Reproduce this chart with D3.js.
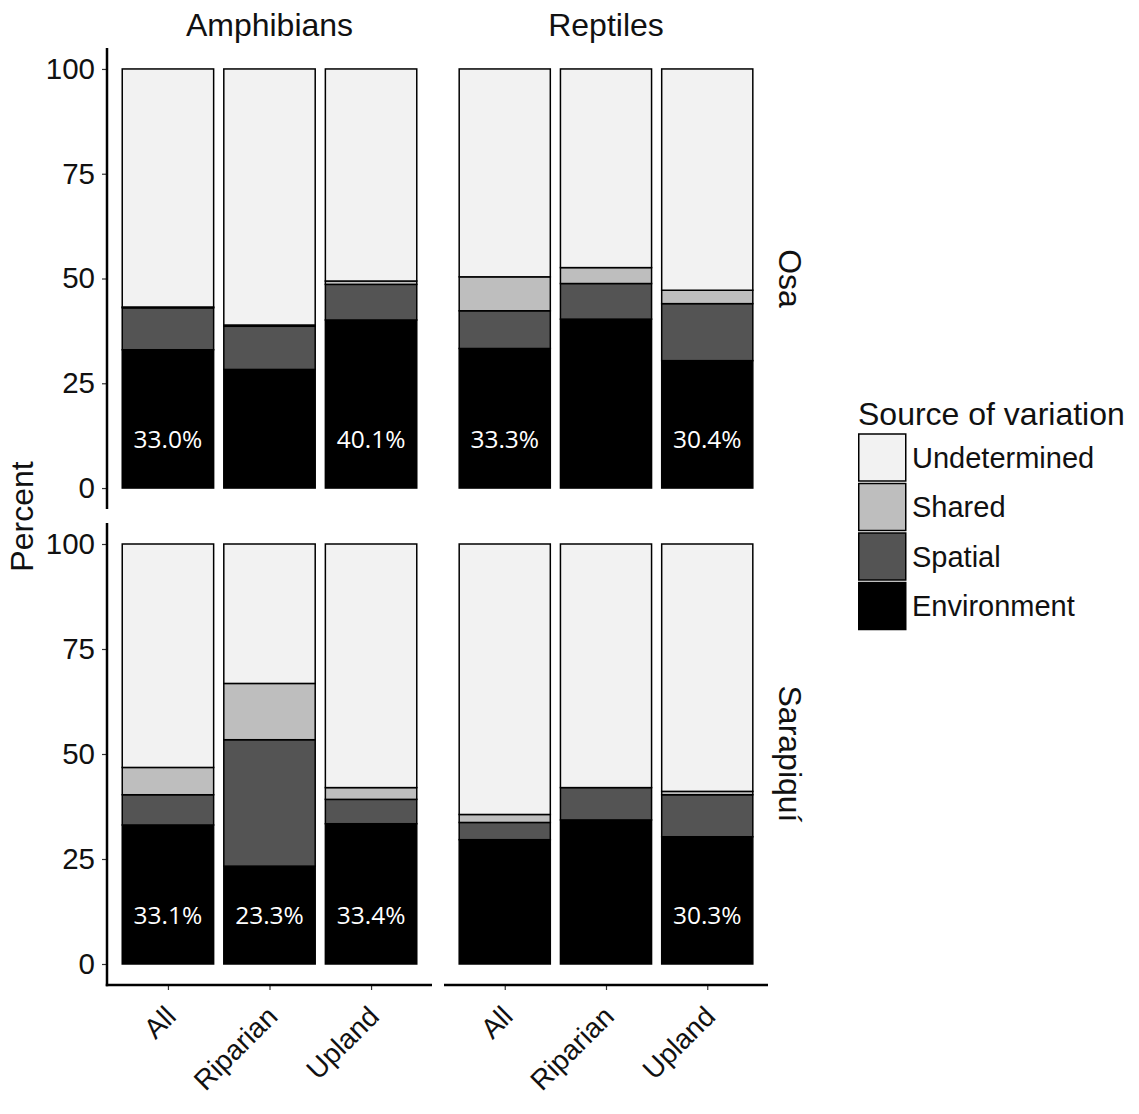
<!DOCTYPE html>
<html>
<head>
<meta charset="utf-8">
<script src="https://cdn.jsdelivr.net/npm/d3@7"></script>
<style>
  html, body { margin: 0; padding: 0; background: #ffffff; }
  svg text { font-family: "Liberation Sans", Arial, sans-serif; }
</style>
</head>
<body>
<svg id="chart" width="1139" height="1114"></svg>
<script>
// Variation partitioning of community composition, by site, taxon and habitat
const sites = ["Osa", "Sarapiquí"];
const taxa = ["Amphibians", "Reptiles"];
const habitats = ["All", "Riparian", "Upland"];
const sources = ["Environment", "Spatial", "Shared", "Undetermined"];   // stacking order, bottom to top
const legendOrder = ["Undetermined", "Shared", "Spatial", "Environment"];
const yTicks = [0, 25, 50, 75, 100];

// Percent of variation per panel (Osa–Amphibians, Osa–Reptiles, Sarapiquí–Amphibians, Sarapiquí–Reptiles),
// one value per habitat
const environment  = [[33.0, 28.3, 40.1], [33.3, 40.3, 30.4], [33.1, 23.3, 33.4], [29.6, 34.3, 30.3]];
const spatial      = [[10.0, 10.3,  8.5], [ 9.0,  8.5, 13.6], [ 7.2, 30.1,  5.8], [ 4.1,  7.7, 10.0]];
const shared       = [[ 0.2,  0.3,  0.8], [ 8.1,  3.8,  3.2], [ 6.5, 13.4,  2.8], [ 1.9,  0.0,  0.8]];
const undetermined = [[56.8, 61.1, 50.6], [49.6, 47.4, 52.8], [53.2, 33.2, 58.0], [64.4, 58.0, 58.9]];
// Bars whose environmental fraction is printed
const labelled     = [[true, false, true], [true, false, true], [true, true, true], [false, false, true]];

const fills = {
  Environment: "#000000",
  Spatial: "#545454",
  Shared: "#bebebe",
  Undetermined: "#f2f2f2"
};

const svg = d3.select("#chart");

const colRanges = [[107, 432], [444, 768]];
const rowRanges = [[48, 509], [523, 985]];
const expand = 0.05;

const stack = d3.stack().keys(sources);

sites.forEach((site, r) => {
  const [top, bottom] = rowRanges[r];
  const h = bottom - top;
  const inner = h / (1 + 2 * expand);
  const y = d3.scaleLinear().domain([0, 100]).range([bottom - inner * expand, top + inner * expand]);

  taxa.forEach((taxon, c) => {
    const p = r * 2 + c;
    const [left, right] = colRanges[c];
    const x = d3.scalePoint().domain(habitats).range([left, right]).padding(0.6);
    const bw = x.step() * 0.9;

    const rows = habitats.map((hab, i) => ({
      habitat: hab,
      Environment: environment[p][i],
      Spatial: spatial[p][i],
      Shared: shared[p][i],
      Undetermined: undetermined[p][i],
      label: labelled[p][i]
    }));
    const series = stack(rows);

    const g = svg.append("g");
    series.forEach(s => {
      g.append("g")
        .selectAll("rect")
        .data(s)
        .join("rect")
        .attr("x", d => x(d.data.habitat) - bw / 2)
        .attr("width", bw)
        .attr("y", d => y(d[1]))
        .attr("height", d => Math.max(0, y(d[0]) - y(d[1])))
        .attr("fill", fills[s.key])
        .attr("stroke", "#000")
        .attr("stroke-width", 1.5);
    });

    // printed environmental fraction
    g.append("g")
      .selectAll("text")
      .data(rows.filter(d => d.label))
      .join("text")
      .attr("x", d => x(d.habitat))
      .attr("y", y(11.5))
      .attr("dy", "0.35em")
      .attr("text-anchor", "middle")
      .attr("fill", "#ffffff")
      .style("font-family", "'Open Sans', sans-serif")
      .style("font-size", "24.5px")
      .text(d => d.Environment.toFixed(1) + "%");

    // left axis only in the first column
    if (c === 0) {
      const ax = svg.append("g")
        .attr("transform", `translate(${left},0)`)
        .call(d3.axisLeft(y).tickValues(yTicks).tickSize(5).tickPadding(7));
      ax.select(".domain").remove();
      ax.selectAll(".tick line").attr("stroke", "#333").attr("stroke-width", 1.2);
      ax.selectAll(".tick text")
        .attr("fill", "#111")
        .style("font-family", "'Liberation Sans', Arial, sans-serif")
        .style("font-size", "29.5px");
      svg.append("line")
        .attr("x1", left).attr("x2", left)
        .attr("y1", top).attr("y2", bottom + (r === 1 ? 1.25 : 0))
        .attr("stroke", "#000").attr("stroke-width", 2.5);
    }

    // bottom axis only in the last row
    if (r === 1) {
      const ax = svg.append("g")
        .attr("transform", `translate(0,${bottom})`)
        .call(d3.axisBottom(x).tickSize(5).tickPadding(4));
      ax.select(".domain").remove();
      ax.selectAll(".tick line").attr("stroke", "#333").attr("stroke-width", 1.2);
      ax.selectAll(".tick text")
        .attr("fill", "#111")
        .attr("text-anchor", "end")
        .attr("dy", 0)
        .attr("y", 0)
        .attr("transform", "translate(-5,19) rotate(-45)")
        .attr("dominant-baseline", "hanging")
        .style("font-family", "'Liberation Sans', Arial, sans-serif")
        .style("font-size", "28px");
      svg.append("line")
        .attr("x1", left - (c === 0 ? 1.25 : 0)).attr("x2", right)
        .attr("y1", bottom).attr("y2", bottom)
        .attr("stroke", "#000").attr("stroke-width", 2.5);
    }

    // column strip labels
    if (r === 0) {
      svg.append("text")
        .attr("x", (left + right) / 2)
        .attr("y", 25)
        .attr("dy", "0.35em")
        .attr("text-anchor", "middle")
        .attr("fill", "#111")
        .style("font-size", "32px")
        .text(taxon);
    }
  });

  // row strip labels
  svg.append("text")
    .attr("transform", `translate(790,${(y(0) + y(100)) / 2}) rotate(90)`)
    .attr("text-anchor", "middle")
    .attr("dy", "0.35em")
    .attr("fill", "#111")
    .style("font-size", "32px")
    .text(site);
});

// y-axis title
svg.append("text")
  .attr("transform", `translate(22,${(rowRanges[0][0] + rowRanges[1][1]) / 2}) rotate(-90)`)
  .attr("text-anchor", "middle")
  .attr("dy", "0.35em")
  .attr("fill", "#111")
  .style("font-size", "32px")
  .text("Percent");

// legend
const legend = svg.append("g").attr("transform", "translate(858,400)");
legend.append("text")
  .attr("x", 0).attr("y", 14)
  .attr("dy", "0.35em")
  .attr("fill", "#111")
  .style("font-size", "32px")
  .text("Source of variation");
const keySize = 47, keyStep = 49.5, keyTop = 34;
legendOrder.forEach((k, i) => {
  const gy = keyTop + i * keyStep;
  legend.append("rect")
    .attr("x", 0.75).attr("y", gy)
    .attr("width", keySize).attr("height", keySize)
    .attr("fill", fills[k])
    .attr("stroke", "#000").attr("stroke-width", 1.5);
  legend.append("text")
    .attr("x", keySize + 7).attr("y", gy + keySize / 2)
    .attr("dy", "0.35em")
    .attr("fill", "#111")
    .style("font-size", "29px")
    .text(k);
});
</script>
</body>
</html>
